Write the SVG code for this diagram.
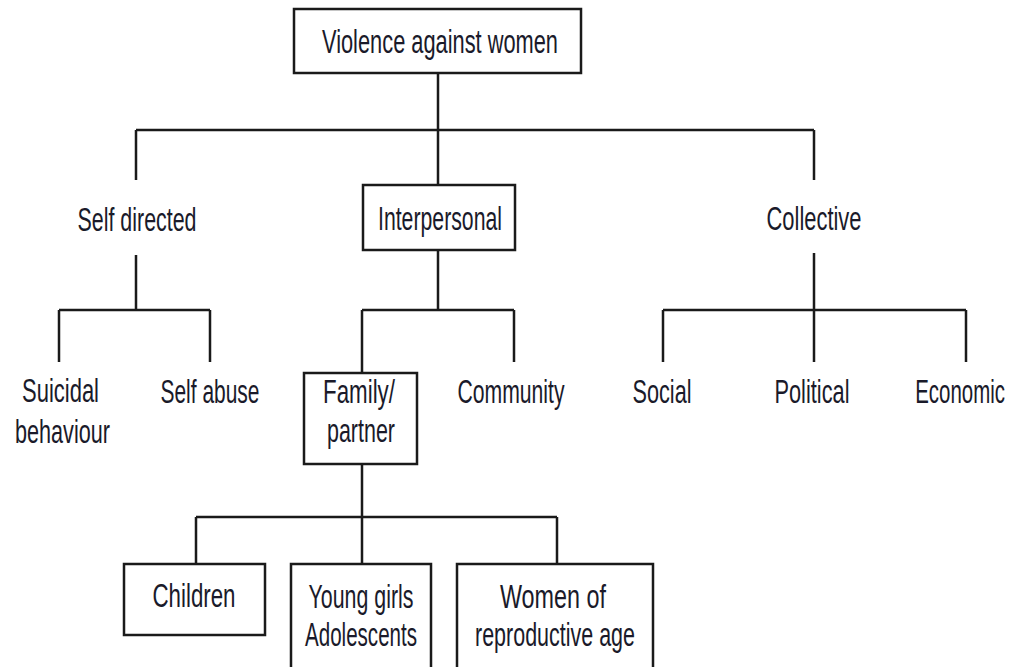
<svg xmlns="http://www.w3.org/2000/svg" width="1013" height="667" viewBox="0 0 1013 667">
<style>
.box{fill:#fff;stroke:#1a1a1a;stroke-width:2.5}
.ln{fill:none;stroke:#1a1a1a;stroke-width:2.5}
text{font-family:"Liberation Sans","DejaVu Sans",sans-serif;font-size:33px;fill:#1a1a2a;text-anchor:middle}
.st{text-anchor:start}
.en{text-anchor:end}
</style>
<rect width="1013" height="667" fill="#fff"/>
<g id="connectors">
<path class="ln" d="M438 73V130M136 130H814M136 130V180M438 130V185M814 130V180"/>
<path class="ln" d="M136 255V310M59 310H210M59 310V362M210 310V362"/>
<path class="ln" d="M438 250V310M362 310H514M362 310V373M514 310V362"/>
<path class="ln" d="M814 253V310M663 310H966M663 310V362M814 310V362M966 310V362"/>
<path class="ln" d="M362 464V517M196 517H557M196 517V564M362 517V564M557 517V564"/>
</g>
<g id="n-root"><rect class="box" x="294" y="9" width="287" height="64"/><text x="440" y="53" textLength="236" lengthAdjust="spacingAndGlyphs">Violence against women</text></g>
<g id="n-self"><text x="137" y="231" textLength="119" lengthAdjust="spacingAndGlyphs">Self directed</text></g>
<g id="n-inter"><rect class="box" x="363" y="185" width="152" height="65"/><text x="440" y="230" textLength="124" lengthAdjust="spacingAndGlyphs">Interpersonal</text></g>
<g id="n-coll"><text x="814" y="230" textLength="95" lengthAdjust="spacingAndGlyphs">Collective</text></g>
<g id="n-suicidal"><text class="st" x="22" y="402" textLength="77" lengthAdjust="spacingAndGlyphs">Suicidal</text><text class="st" x="15" y="443" textLength="95" lengthAdjust="spacingAndGlyphs">behaviour</text></g>
<g id="n-selfabuse"><text x="210" y="403" textLength="99" lengthAdjust="spacingAndGlyphs">Self abuse</text></g>
<g id="n-family"><rect class="box" x="304" y="373" width="113" height="91"/><text x="359" y="403" textLength="72" lengthAdjust="spacingAndGlyphs">Family/</text><text x="361" y="442" textLength="68" lengthAdjust="spacingAndGlyphs">partner</text></g>
<g id="n-community"><text x="511" y="403" textLength="107" lengthAdjust="spacingAndGlyphs">Community</text></g>
<g id="n-social"><text x="662" y="403" textLength="59" lengthAdjust="spacingAndGlyphs">Social</text></g>
<g id="n-political"><text x="812" y="403" textLength="75" lengthAdjust="spacingAndGlyphs">Political</text></g>
<g id="n-economic"><text class="en" x="0" y="0" transform="translate(1005,403) scale(0.62,1)">Economic</text></g>
<g id="n-children"><rect class="box" x="124" y="564" width="141" height="71"/><text x="194" y="607" textLength="83" lengthAdjust="spacingAndGlyphs">Children</text></g>
<g id="n-young"><rect class="box" x="291" y="564" width="140" height="120"/><text x="361" y="608" textLength="105" lengthAdjust="spacingAndGlyphs">Young girls</text><text x="361" y="646" textLength="112" lengthAdjust="spacingAndGlyphs">Adolescents</text></g>
<g id="n-women"><rect class="box" x="457" y="564" width="196" height="120"/><text x="553" y="608" textLength="106" lengthAdjust="spacingAndGlyphs">Women of</text><text x="555" y="646" textLength="160" lengthAdjust="spacingAndGlyphs">reproductive age</text></g>
</svg>
